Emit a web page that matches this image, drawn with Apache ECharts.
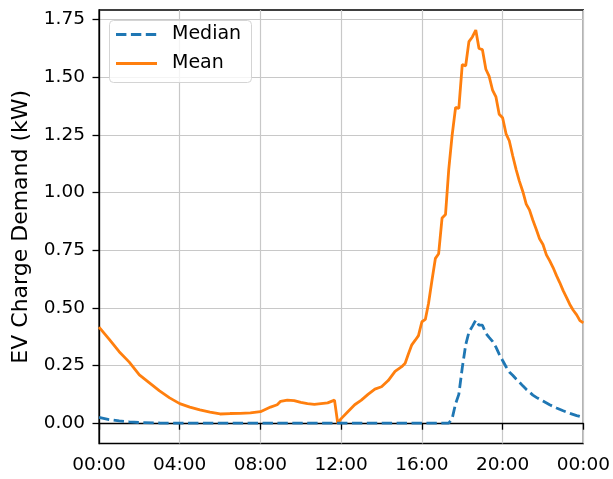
<!DOCTYPE html>
<html>
<head>
<meta charset="utf-8">
<script src="https://cdn.jsdelivr.net/npm/echarts@6/dist/echarts.min.js"></script>
<style>
  html, body { margin: 0; padding: 0; background: #fff; }
  #chart { width: 613px; height: 479px; }
</style>
</head>
<body>
<div id="chart"></div>
<script>
// Hour of day (0-24) and average EV charging demand in kW
const meanHours = [0, 0.5, 1, 1.5, 2, 2.5, 3, 3.5, 4, 4.5, 5, 5.5, 6, 6.5, 7, 7.5, 8, 8.5, 8.83, 9, 9.33, 9.67, 10, 10.33, 10.67, 11, 11.33, 11.67, 11.83, 12, 12.33, 12.67, 13, 13.33, 13.67, 14, 14.33, 14.67, 15, 15.17, 15.33, 15.5, 15.67, 15.83, 16, 16.17, 16.33, 16.5, 16.67, 16.83, 17, 17.17, 17.33, 17.5, 17.67, 17.83, 18, 18.17, 18.33, 18.5, 18.67, 18.83, 19, 19.17, 19.33, 19.5, 19.67, 19.83, 20, 20.17, 20.33, 20.5, 20.67, 20.83, 21, 21.17, 21.33, 21.5, 21.67, 21.83, 22, 22.17, 22.33, 22.5, 22.67, 22.83, 23, 23.17, 23.33, 23.5, 23.67, 23.83, 24];
const meanKw = [0.417, 0.365, 0.31, 0.265, 0.21, 0.175, 0.14, 0.11, 0.085, 0.07, 0.058, 0.048, 0.04, 0.042, 0.043, 0.045, 0.05, 0.07, 0.08, 0.095, 0.1, 0.098, 0.09, 0.085, 0.082, 0.085, 0.088, 0.1, 0.0, 0.02, 0.05, 0.08, 0.1, 0.125, 0.148, 0.158, 0.185, 0.225, 0.245, 0.26, 0.3, 0.34, 0.36, 0.38, 0.44, 0.45, 0.52, 0.62, 0.715, 0.735, 0.89, 0.905, 1.1, 1.25, 1.37, 1.365, 1.555, 1.55, 1.655, 1.675, 1.705, 1.625, 1.62, 1.535, 1.505, 1.445, 1.415, 1.34, 1.325, 1.255, 1.225, 1.16, 1.1, 1.05, 1.005, 0.95, 0.925, 0.88, 0.84, 0.8, 0.775, 0.73, 0.705, 0.675, 0.64, 0.61, 0.575, 0.545, 0.515, 0.49, 0.47, 0.445, 0.435];

// Hour of day and median EV charging demand in kW
const medianHours = [0, 0.5, 1, 1.5, 2, 3, 4, 17.33, 17.5, 17.67, 17.83, 18, 18.17, 18.33, 18.5, 18.67, 18.83, 19, 19.17, 19.33, 19.5, 19.67, 19.83, 20, 20.17, 20.33, 20.5, 20.67, 20.83, 21, 21.17, 21.33, 21.5, 21.67, 21.83, 22, 22.33, 22.67, 23, 23.33, 23.67, 24];
const medianKw = [0.025, 0.016, 0.01, 0.006, 0.003, 0.001, 0, 0, 0.02, 0.085, 0.125, 0.24, 0.34, 0.395, 0.42, 0.447, 0.425, 0.425, 0.39, 0.372, 0.355, 0.33, 0.3, 0.272, 0.245, 0.222, 0.208, 0.192, 0.178, 0.162, 0.147, 0.135, 0.122, 0.112, 0.104, 0.096, 0.08, 0.066, 0.054, 0.043, 0.033, 0.025];

// Axis ticks
const yTicks = [0, 0.25, 0.5, 0.75, 1.0, 1.25, 1.5, 1.75];

const pair = (xs, ys) => xs.map((x, i) => [x, ys[i]]);
const fmtHour = h => String(h % 24).padStart(2, '0') + ':00';

const FONT = 'DejaVu Sans';
const BLUE = '#1f77b4';
const ORANGE = '#ff7f0e';
const DASH = [10.4, 4.5];

const chart = echarts.init(document.getElementById('chart'), null, { renderer: 'canvas' });

// Legend box: line samples and series names
const legendItems = [
  { name: 'Median', color: BLUE, dash: DASH, y: 34.5 },
  { name: 'Mean', color: ORANGE, dash: null, y: 63.5 }
];
const legendGraphics = [{
  type: 'rect', left: 109, top: 20, z: 10,
  shape: { width: 142, height: 62, r: 4 },
  style: { fill: 'rgba(255,255,255,0.8)', stroke: '#d4d4d4', lineWidth: 1 }
}];
legendItems.forEach(it => {
  legendGraphics.push({
    type: 'line', z: 11,
    shape: { x1: 116, y1: it.y, x2: 157, y2: it.y },
    style: { stroke: it.color, lineWidth: 2.8, lineDash: it.dash, lineCap: 'butt' }
  });
  legendGraphics.push({
    type: 'text', z: 11, x: 172, y: it.y,
    style: { text: it.name, font: '19px "DejaVu Sans"', fill: '#000', verticalAlign: 'middle', align: 'left' }
  });
});

chart.setOption({
  animation: false,
  textStyle: { fontFamily: FONT },
  grid: {
    left: 99, right: 28.5, top: 10, bottom: 35.5,
    show: true, borderColor: '#000', borderWidth: 1.3, backgroundColor: 'transparent'
  },
  xAxis: {
    type: 'value', min: 0, max: 24, interval: 4,
    axisLine: { show: true, lineStyle: { color: '#000', width: 1.3 } },
    axisTick: { show: true, length: 6.5, lineStyle: { color: '#000', width: 1.3 } },
    axisLabel: { formatter: v => fmtHour(v), fontSize: 18.5, color: '#000', margin: 12 },
    splitLine: { show: true, lineStyle: { color: '#c8c8c8', width: 1.2 } }
  },
  yAxis: {
    type: 'value', min: -0.088, max: 1.792,
    name: 'EV Charge Demand (kW)', nameLocation: 'middle', nameGap: 67,
    nameTextStyle: { fontFamily: FONT, fontSize: 22, color: '#000' },
    axisLine: { show: true, lineStyle: { color: '#000', width: 1.3 } },
    axisTick: { show: true, length: 6.5, customValues: yTicks, lineStyle: { color: '#000', width: 1.3 } },
    axisLabel: { customValues: yTicks, formatter: v => v.toFixed(2), fontSize: 18.5, color: '#000', margin: 14 },
    splitLine: { show: true, lineStyle: { color: '#c8c8c8', width: 1.2 } }
  },
  graphic: legendGraphics,
  series: [
    {
      name: 'Median', type: 'line', data: pair(medianHours, medianKw),
      showSymbol: false, symbol: 'none',
      lineStyle: { color: BLUE, width: 2.8, type: DASH, cap: 'butt' },
      z: 3
    },
    {
      name: 'Mean', type: 'line', data: pair(meanHours, meanKw),
      showSymbol: false, symbol: 'none',
      lineStyle: { color: ORANGE, width: 2.8 },
      z: 2
    }
  ]
});
</script>
</body>
</html>
